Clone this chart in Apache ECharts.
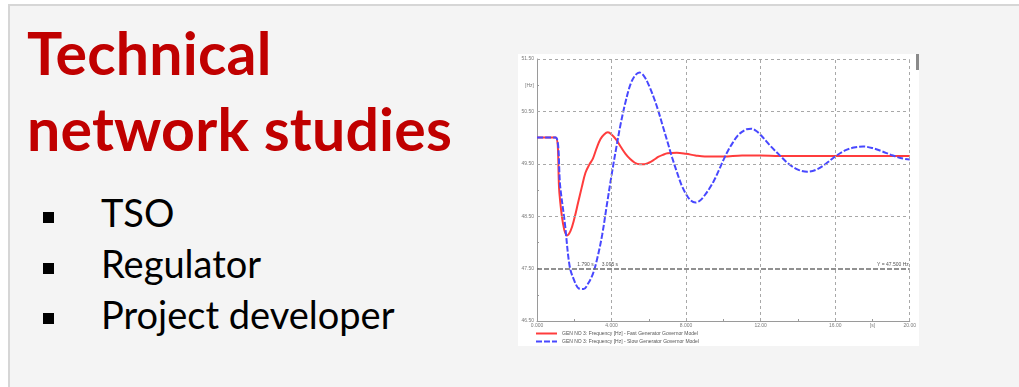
<!DOCTYPE html>
<html>
<head>
<meta charset="utf-8">
<title>Technical network studies</title>
<script src="https://cdn.jsdelivr.net/npm/echarts@6/dist/echarts.min.js"></script>
<style>
  html, body { margin: 0; padding: 0; background: #ffffff; width: 1019px; height: 387px; overflow: hidden; }
  .panel { position: absolute; left: 8px; top: 4px; width: 1100px; height: 500px;
           background: #f4f4f4; border: 2px solid #d6d6d6; box-sizing: border-box; }
  .title { position: absolute; left: 27px; top: 15px; font-family: Lato, sans-serif; font-weight: bold;
           font-size: 59px; letter-spacing: 0.2px; line-height: 76px; color: #c00000; white-space: nowrap; }
  .bullets { position: absolute; left: 101px; top: 187px; font-family: Lato, sans-serif;
             font-size: 38px; line-height: 51px; color: #000; white-space: nowrap; }
  .sq { position: absolute; left: 43px; width: 11px; height: 11px; background: #000; }
  #chart { position: absolute; left: 518px; top: 54px; width: 401px; height: 292px; background: #fff;
           filter: blur(0.45px); }
</style>
</head>
<body>
<div class="panel"></div>
<div class="title">Technical<br>network studies</div>
<div class="sq" style="top:212px"></div>
<div class="sq" style="top:263px"></div>
<div class="sq" style="top:313px"></div>
<div class="bullets">TSO<br>Regulator<br>Project developer</div>
<div id="chart"></div>
<script>
// Generator frequency response after a loss-of-generation event (time in s, frequency in Hz)
const fastName = 'GEN NO 3: Frequency [Hz] - Fast Generator Governor Model';
const slowName = 'GEN NO 3: Frequency [Hz] - Slow Generator Governor Model';

const fastT  = [0, 0.5, 1.0, 1.2, 1.4, 1.6, 1.8, 2.0, 2.2, 2.4, 2.6, 2.8, 3.0, 3.2, 3.4, 3.6, 3.8, 4.0, 4.25, 4.5, 4.75, 5.0, 5.25, 5.5, 5.75, 6.0, 6.25, 6.5, 6.75, 7.0, 7.5, 8.0, 8.5, 9.0, 9.5, 10, 11, 12, 13, 14, 15, 16, 17, 18, 19, 20];
const fastHz = [50.0, 50.0, 50.0, 48.95, 48.35, 48.13, 48.22, 48.45, 48.75, 49.05, 49.33, 49.48, 49.6, 49.8, 49.97, 50.06, 50.1, 50.06, 49.96, 49.82, 49.69, 49.59, 49.52, 49.49, 49.49, 49.52, 49.57, 49.63, 49.67, 49.7, 49.71, 49.69, 49.66, 49.64, 49.64, 49.64, 49.66, 49.66, 49.65, 49.65, 49.65, 49.65, 49.65, 49.65, 49.65, 49.65];

const slowT  = [0, 0.5, 1.0, 1.25, 1.5, 1.75, 2.0, 2.25, 2.5, 2.75, 3.0, 3.25, 3.5, 3.75, 4.0, 4.25, 4.5, 4.75, 5.0, 5.25, 5.5, 5.75, 6.0, 6.25, 6.5, 6.75, 7.0, 7.25, 7.5, 7.75, 8.0, 8.25, 8.5, 8.75, 9.0, 9.25, 9.5, 9.75, 10.0, 10.25, 10.5, 10.75, 11.0, 11.25, 11.5, 11.75, 12.0, 12.5, 13.0, 13.5, 14.0, 14.5, 15.0, 15.5, 16.0, 16.5, 17.0, 17.5, 18.0, 18.5, 19.0, 19.5, 20.0];
const slowHz = [50.0, 50.0, 50.0, 49.05, 48.35, 47.55, 47.27, 47.12, 47.11, 47.22, 47.4, 47.72, 48.15, 48.72, 49.28, 49.8, 50.28, 50.68, 51.0, 51.18, 51.24, 51.17, 51.0, 50.78, 50.52, 50.22, 49.92, 49.62, 49.35, 49.1, 48.92, 48.8, 48.76, 48.8, 48.9, 49.03, 49.18, 49.37, 49.57, 49.75, 49.9, 50.03, 50.11, 50.16, 50.17, 50.13, 50.05, 49.85, 49.67, 49.5, 49.39, 49.35, 49.39, 49.5, 49.64, 49.75, 49.81, 49.83, 49.8, 49.74, 49.67, 49.61, 49.58];

// Under-frequency threshold and the times where the slow response crosses it
const thresholdHz = 47.5;
const crossTimes = [1.79, 3.095];

// Axis ticks and labels
const xTickLabels = { 0: '0.000', 4: '4.000', 8: '8.000', 12: '12.00', 16: '16.00', 18: '[s]', 20: '20.00' };
const yTickLabels = { 46.5: '46.50', 47.5: '47.50', 48.5: '48.50', 49.5: '49.50', 50.5: '50.50', 51: '[Hz]', 51.5: '51.50' };
const xGrid = [4, 8, 12, 16, 20];
const yGrid = [48.5, 49.5, 50.5, 51.5];

const pairs = (ts, vs) => ts.map((t, i) => [t, vs[i]]);
const labelFor = (table) => (v) => {
  const key = Object.keys(table).find(k => Math.abs(parseFloat(k) - v) < 1e-6);
  return key === undefined ? '' : table[key];
};

const small = { fontFamily: 'Liberation Sans, Arial, sans-serif', fontSize: 5, color: '#7a7a7a' };
const gridLine = { color: '#a8a8a8', type: [3, 3], width: 1 };

const chart = echarts.init(document.getElementById('chart'), null, { renderer: 'canvas' });
chart.setOption({
  animation: false,
  backgroundColor: '#ffffff',
  grid: { left: 19, right: 9, top: 5, bottom: 25, containLabel: false },
  xAxis: {
    type: 'value', min: 0, max: 20, interval: 2,
    axisLine: { show: true, lineStyle: { color: '#9a9a9a', width: 1 } },
    axisTick: { show: true, inside: true, length: 2, lineStyle: { color: '#9a9a9a' } },
    axisLabel: { ...small, margin: 2, formatter: labelFor(xTickLabels), showMinLabel: true, showMaxLabel: true },
    splitLine: { show: false }
  },
  yAxis: {
    type: 'value', min: 46.5, max: 51.5, interval: 0.5,
    axisLine: { show: true, lineStyle: { color: '#9a9a9a', width: 1 } },
    axisTick: { show: true, inside: true, length: 2, lineStyle: { color: '#9a9a9a' } },
    axisLabel: { ...small, margin: 3, formatter: labelFor(yTickLabels), showMinLabel: true, showMaxLabel: true },
    splitLine: { show: false }
  },
  legend: {
    data: [fastName, slowName],
    orient: 'vertical', left: 17, top: 277,
    itemWidth: 21, itemHeight: 6, itemGap: 3,
    itemStyle: { opacity: 0, borderWidth: 0 },
    textStyle: { ...small, color: '#555' },
    padding: 0
  },
  graphic: [
    { type: 'rect', right: 0, top: 0, shape: { width: 3, height: 16 }, style: { fill: '#8a8a8a' } }
  ],
  series: [
    {
      name: 'grid', type: 'line', data: [], silent: true, z: 1,
      markLine: {
        silent: true, symbol: 'none', animation: false,
        label: { show: false },
        lineStyle: gridLine,
        data: [
          ...xGrid.map(v => ({ xAxis: v })),
          ...yGrid.map(v => ({ yAxis: v })),
          {
            yAxis: thresholdHz,
            lineStyle: { color: '#6e6e6e', type: [5, 2], width: 1.6 },
            label: { show: true, position: 'insideEndTop', distance: 1, formatter: 'Y = 47.500 Hz', ...small, color: '#555' }
          }
        ]
      },
      markPoint: {
        silent: true, symbol: 'circle', symbolSize: 0,
        label: { show: true, position: 'right', offset: [2, -4], ...small, color: '#555' },
        data: crossTimes.map(t => ({ coord: [t, thresholdHz], label: { formatter: t.toFixed(3) + ' s' } }))
      }
    },
    {
      name: fastName, type: 'line', data: pairs(fastT, fastHz), smooth: 0.35,
      symbol: 'none', z: 3,
      lineStyle: { color: '#ff3c3c', width: 2 }, itemStyle: { color: '#ff3c3c' }
    },
    {
      name: slowName, type: 'line', data: pairs(slowT, slowHz), smooth: 0.35,
      symbol: 'none', z: 4,
      lineStyle: { color: '#4848ff', width: 2, type: [6, 2] }, itemStyle: { color: '#4848ff' }
    }
  ]
});
</script>
</body>
</html>
